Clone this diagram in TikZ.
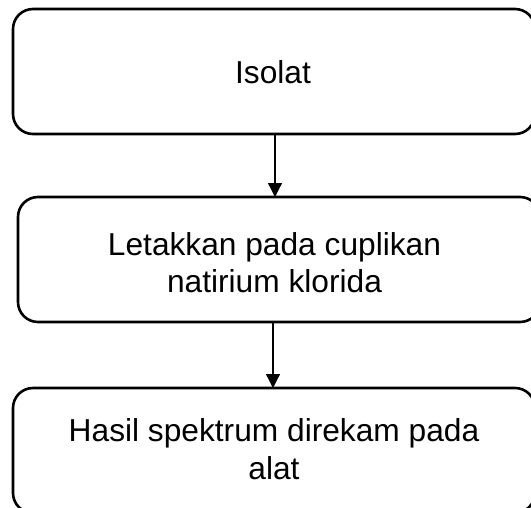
\documentclass[tikz,border=0pt]{standalone}
\usepackage{fontspec}
\setmainfont{Liberation Sans}
\usetikzlibrary{arrows.meta}
\begin{document}
\begin{tikzpicture}[x=1pt,y=-1pt,
  box/.style={draw=black,line width=2.6pt,rounded corners=20pt,minimum width=522pt,minimum height=125pt,inner sep=0pt,outer sep=0pt},
  txt/.style={font=\fontsize{31.7}{37.5}\selectfont,align=center,inner sep=0pt},
  arr/.style={draw=black,line width=1.3pt,-{Triangle[width=14pt,length=14pt]}}]
\useasboundingbox[clip] (0,0) rectangle (531,507);
\fill[white] (0,0) rectangle (531,507);
\node[box] (b1) at (274,71.5) {};
\node[box] (b2) at (279,259.5) {};
\node[box] (b3) at (274,450.5) {};
\node[txt,anchor=base] (t1) at (273,83) {Isolat};
\node[txt,anchor=base] (t2) at (274.5,292.5) {Letakkan pada cuplikan\\natirium klorida};
\node[txt,anchor=base] (t3) at (274,479) {Hasil spektrum direkam pada\\alat};
\draw[arr] (b1.south -| 275,0) -- (b2.north -| 275,0);
\draw[arr] (b2.south -| 273,0) -- (b3.north -| 273,0);
\end{tikzpicture}
\end{document}
